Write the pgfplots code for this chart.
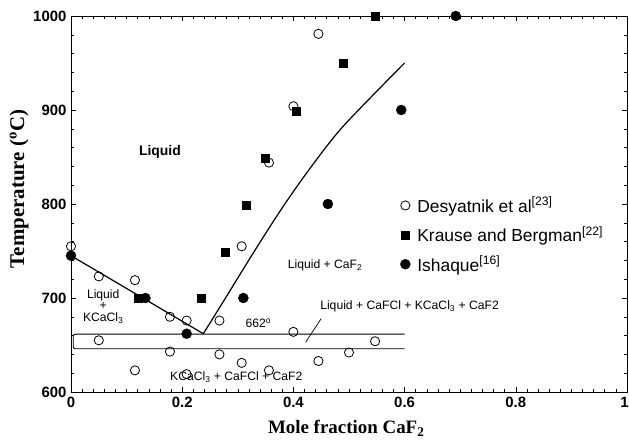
\documentclass[border=0pt]{standalone}
\usepackage{fontspec}
\setmainfont{Liberation Sans}
\newfontfamily\serifbf{Liberation Serif}
\usepackage{pgfplots}
\pgfplotsset{compat=1.18}

\begin{document}
\begin{tikzpicture}
\begin{axis}[
  at={(0,0)}, anchor=south west,
  width=556bp, height=376bp, scale only axis,
  xmin=0, xmax=1, ymin=600, ymax=1000,
  xtick={0,0.2,0.4,0.6,0.8,1}, ytick={600,700,800,900,1000},
  xticklabels={0,0.2,0.4,0.6,0.8,\hspace{-5bp}1},
  yticklabels={600,700,800,900,1000},
  minor x tick num=9, minor y tick num=4,
  tick align=inside,
  major tick length=5bp, minor tick length=3bp,
  tick style={black, line width=0.6bp},
  axis line style={line width=0.9bp},
  ticklabel style={font=\fontsize{15}{15}\selectfont\bfseries},
  /pgf/number format/assume math mode=true,
  xticklabel style={yshift=-2bp},
  yticklabel style={xshift=-1bp},
  xlabel={\serifbf\bfseries Mole fraction CaF\textsubscript{2}},
  ylabel={\serifbf\bfseries Temperature (\textsuperscript{o}C)},
  xlabel style={at={(rel axis cs:0.495,0)}, anchor=center, yshift=-36bp, font=\fontsize{19}{19}\selectfont},
  ylabel style={at={([xshift=-52bp]rel axis cs:0,0.54)}, anchor=center, font=\fontsize{21}{21}\selectfont},
  clip=false,
  legend style={at={(axis cs:0.592,807.5)}, anchor=north west, draw=none, fill=none,
    font=\fontsize{17.5}{17.5}\selectfont, row sep=12.8bp, inner sep=0pt,
    nodes={inner xsep=7bp, inner ysep=0pt},
    legend cell align=left},
]
% Desyatnik et al (open circles)
\addplot[only marks, mark=o, mark size=4.6bp, mark options={black, fill=white, line width=0.8bp}] coordinates {
(0,755) (0.05,723) (0.05,655) (0.115,719) (0.115,623) (0.178,680) (0.178,643)
(0.208,676) (0.208,619) (0.267,676) (0.267,640) (0.307,755) (0.307,631)
(0.356,844) (0.356,623) (0.40,904) (0.40,664) (0.445,981) (0.445,633)
(0.50,642) (0.547,654)
};
% Krause and Bergman (filled squares)
\addplot[only marks, mark=square*, mark size=4bp, mark options={black, fill=black}] coordinates {
(0.12,700) (0.235,700) (0.278,749) (0.315,799) (0.349,849) (0.405,899) (0.489,950) (0.547,1000)
};
% Ishaque (filled circles)
\addplot[only marks, mark=*, mark size=5bp, mark options={black, fill=black}] coordinates {
(0,745) (0.134,700) (0.208,662) (0.31,700) (0.462,800) (0.594,900) (0.692,1000)
};
\legend{Desyatnik et al\textsuperscript{[23]}, Krause and Bergman\textsuperscript{[22]}, Ishaque\textsuperscript{[16]}}

% liquidus lines
\addplot[black, line width=1.2bp, forget plot] coordinates {(0,745) (0.238,662)};
\addplot[black, line width=1.2bp, smooth, tension=0.5, forget plot] coordinates {
(0.238,662) (0.28,702) (0.33,750) (0.38,796) (0.43,838) (0.49,883) (0.6,950)
};
% eutectic band
\addplot[black, line width=0.9bp, rounded corners=2bp, forget plot] coordinates {
(0.6,661.5) (0.004,661.5) (0.004,646) (0.6,646)
};
\addplot[black, line width=0.7bp, forget plot] coordinates {(0.422,653) (0.45,678)};

% annotations
\node[font=\fontsize{14}{14}\selectfont\bfseries] at (axis cs:0.16,855) {Liquid};
\node[font=\fontsize{12.2}{11.5}\selectfont, align=center] at (axis cs:0.058,691) {Liquid\\+\\KCaCl\textsubscript{3}};
\node[font=\fontsize{12.2}{12}\selectfont] at (axis cs:0.337,673) {662\textsuperscript{o}};
\node[font=\fontsize{12.2}{12}\selectfont] at (axis cs:0.457,735) {Liquid + CaF\textsubscript{2}};
\node[font=\fontsize{12.2}{12}\selectfont, anchor=west, inner sep=0pt] at (axis cs:0.448,691) {Liquid + CaFCl + KCaCl\textsubscript{3} + CaF2};
\node[font=\fontsize{12.2}{12}\selectfont, anchor=west, inner sep=0pt] at (axis cs:0.178,616) {KCaCl\textsubscript{3} + CaFCl + CaF2};
\end{axis}
\pgfresetboundingbox
\path[use as bounding box] (-71bp,-49bp) rectangle (558bp,392bp);
\end{tikzpicture}
\end{document}
